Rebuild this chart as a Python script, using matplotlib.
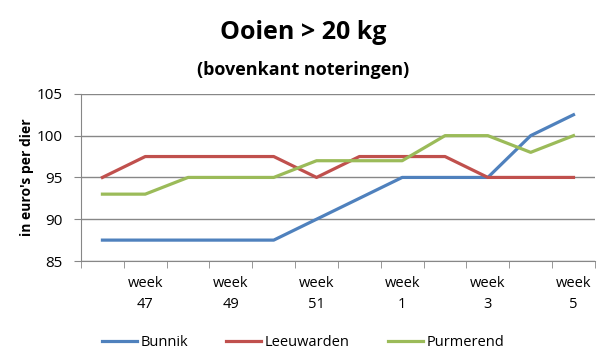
import numpy as np
import matplotlib
matplotlib.use("Agg")
import matplotlib.pyplot as plt

plt.rcParams['font.family'] = ['Open Sans', 'DejaVu Sans']

# data
weeks = ['46', '47', '48', '49', '50', '51', '52', '1', '2', '3', '4', '5']
bunnik = [87.5, 87.5, 87.5, 87.5, 87.5, 90, 92.5, 95, 95, 95, 100, 102.5]
leeuwarden = [95, 97.5, 97.5, 97.5, 97.5, 95, 97.5, 97.5, 97.5, 95, 95, 95]
purmerend = [93, 93, 95, 95, 95, 97, 97, 97, 100, 100, 98, 100]

fig = plt.figure(figsize=(6.06, 3.61), dpi=100)
ax = fig.add_axes([0.1337, 0.277, 0.848, 0.463])

x = np.arange(len(weeks))
ax.plot(x, bunnik, color='#4F81BD', lw=2.3, label='Bunnik', solid_joinstyle='round')
ax.plot(x, leeuwarden, color='#C0504D', lw=2.3, label='Leeuwarden', solid_joinstyle='round')
ax.plot(x, purmerend, color='#9BBB59', lw=2.3, label='Purmerend', solid_joinstyle='round')

ax.set_xlim(-0.5, len(weeks) - 0.5)
ax.set_ylim(85, 105)
ax.set_yticks([85, 90, 95, 100, 105])
ax.grid(axis='y', color='#878787', lw=1)
ax.set_axisbelow(True)

# labels on every other week, ticks on category boundaries
ax.set_xticks(x[1::2])
ax.set_xticklabels(['week\n' + w for w in weeks[1::2]], fontsize=10.5, linespacing=1.5)
ax.set_xticks(np.arange(-0.5, len(weeks)), minor=True)
ax.tick_params(axis='x', which='major', length=0, pad=11)
ax.tick_params(axis='x', which='minor', length=5, color='#878787', direction='out')
ax.tick_params(axis='y', length=5, color='#878787', labelsize=11, pad=8)

for s in ['top', 'right']:
    ax.spines[s].set_visible(False)
for s in ['left', 'bottom']:
    ax.spines[s].set_color('#878787')

ax.set_ylabel("in euro's per dier", fontsize=10, fontweight='bold', labelpad=2)

fig.text(0.5, 0.91, 'Ooien > 20 kg', ha='center', va='center', fontsize=18, fontweight='bold')
fig.text(0.5, 0.805, '(bovenkant noteringen)', ha='center', va='center', fontsize=13, fontweight='bold')

fig.legend(loc='center', bbox_to_anchor=(0.5, 0.05), ncol=3, frameon=False,
           fontsize=10.5, handlelength=2.4, columnspacing=2.6, handletextpad=0.25)

fig.savefig('out.png', dpi=100)
